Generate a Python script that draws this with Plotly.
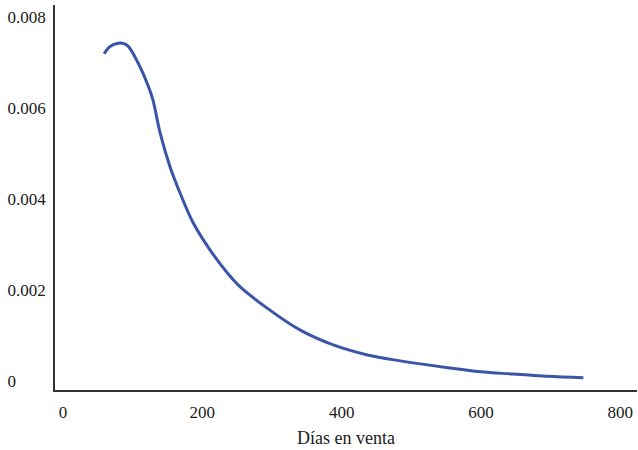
import plotly.graph_objects as go

dias = [59, 67.5, 79.5, 87.6, 93.8, 108, 122.6, 129, 139.4, 153.7, 168, 187, 211,
        236, 254, 293, 340, 388, 437, 484, 552, 599, 647, 695, 747]
densidad = [0.00719, 0.00735, 0.00742, 0.00741, 0.00735, 0.00698, 0.00647, 0.00618,
            0.00545, 0.00470, 0.00413, 0.00347, 0.00288, 0.00237, 0.00207, 0.00160,
            0.00112, 0.00079, 0.00057, 0.00044, 0.00029, 0.00020, 0.00015, 0.00010,
            0.00007]

x_ticks = [0, 200, 400, 600, 800]
y_ticks = [0, 0.002, 0.004, 0.006, 0.008]
y_labels = ["0\u2007\u2007\u2007\u2008", "0.002", "0.004", "0.006", "0.008"]

font_family = "Liberation Serif, DejaVu Serif, serif"

fig = go.Figure()
fig.add_trace(go.Scatter(
    x=dias, y=densidad, mode="lines",
    line=dict(color="#3a55a8", width=3, shape="spline", smoothing=1.0),
    hoverinfo="skip", showlegend=False,
))

fig.update_layout(
    width=638, height=450,
    margin=dict(l=55, r=1, t=5, b=60, autoexpand=False),
    paper_bgcolor="white", plot_bgcolor="white",
    font=dict(family=font_family, size=17, color="#1a1a1a"),
    xaxis=dict(
        range=[-11.5, 824], tickvals=x_ticks, ticktext=[str(v) for v in x_ticks],
        showgrid=False, zeroline=False, showline=True, linecolor="#333333", linewidth=1.5,
        ticks="", automargin=False, ticklabelstandoff=6,
        title=dict(text="Días en venta", font=dict(size=18), standoff=10),
    ),
    yaxis=dict(
        range=[-0.0002, 0.00826], tickvals=y_ticks, ticktext=y_labels,
        showgrid=False, zeroline=False, showline=True, linecolor="#333333", linewidth=1.5,
        ticks="", ticklabelstandoff=4, automargin=False,
    ),
)

fig.write_html("out.html", config={"displayModeBar": False},
               post_script="document.body.style.margin='0';")
